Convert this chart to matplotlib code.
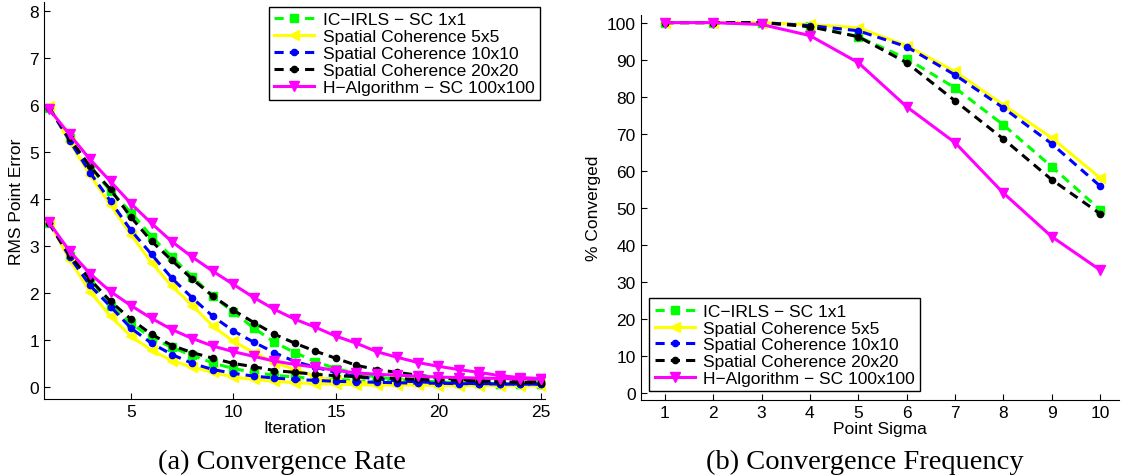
import numpy as np
import matplotlib.pyplot as plt

plt.rcParams['font.family'] = ['Liberation Sans', 'DejaVu Sans']

# ---- (a) convergence rate: two starting errors per method ----
iters = np.arange(1, 26)

green_hi = [5.95, 5.30, 4.68, 4.18, 3.72, 3.21, 2.77, 2.35, 1.94, 1.60, 1.26, 0.96, 0.74,
            0.55, 0.40, 0.30, 0.22, 0.17, 0.14, 0.12, 0.10, 0.09, 0.08, 0.08, 0.07]
yellow_hi = [5.98, 5.22, 4.52, 3.88, 3.25, 2.65, 2.15, 1.74, 1.30, 0.98, 0.74, 0.53, 0.38,
             0.23, 0.13, 0.11, 0.09, 0.08, 0.07, 0.06, 0.06, 0.05, 0.05, 0.05, 0.05]
blue_hi = [5.95, 5.25, 4.57, 3.96, 3.34, 2.83, 2.32, 1.90, 1.51, 1.20, 0.96, 0.74, 0.55,
           0.43, 0.32, 0.23, 0.18, 0.14, 0.12, 0.10, 0.09, 0.08, 0.08, 0.07, 0.07]
black_hi = [5.95, 5.30, 4.70, 4.21, 3.62, 3.11, 2.70, 2.30, 1.94, 1.64, 1.38, 1.13, 0.94,
            0.77, 0.62, 0.47, 0.38, 0.32, 0.26, 0.21, 0.17, 0.14, 0.12, 0.11, 0.10]
magenta_hi = [5.92, 5.38, 4.85, 4.38, 3.91, 3.49, 3.10, 2.77, 2.47, 2.19, 1.91, 1.66, 1.45,
              1.28, 1.09, 0.94, 0.76, 0.64, 0.53, 0.45, 0.38, 0.32, 0.25, 0.21, 0.19]

green_lo = [3.50, 2.80, 2.25, 1.74, 1.36, 1.06, 0.85, 0.68, 0.52, 0.40, 0.32, 0.26, 0.22,
            0.19, 0.17, 0.15, 0.13, 0.12, 0.11, 0.10, 0.09, 0.09, 0.08, 0.08, 0.08]
yellow_lo = [3.52, 2.72, 2.04, 1.51, 1.09, 0.79, 0.57, 0.43, 0.32, 0.22, 0.17, 0.13, 0.10,
             0.08, 0.07, 0.06, 0.05, 0.05, 0.05, 0.04, 0.04, 0.04, 0.04, 0.04, 0.04]
blue_lo = [3.50, 2.78, 2.17, 1.72, 1.26, 0.94, 0.70, 0.51, 0.38, 0.30, 0.24, 0.20, 0.17,
           0.15, 0.13, 0.12, 0.11, 0.10, 0.09, 0.09, 0.08, 0.08, 0.07, 0.07, 0.07]
black_lo = [3.50, 2.82, 2.30, 1.83, 1.45, 1.13, 0.89, 0.74, 0.62, 0.51, 0.44, 0.36, 0.32,
            0.28, 0.25, 0.23, 0.21, 0.19, 0.17, 0.16, 0.15, 0.14, 0.13, 0.12, 0.12]
magenta_lo = [3.51, 2.90, 2.42, 2.04, 1.74, 1.47, 1.23, 1.04, 0.88, 0.76, 0.66, 0.56, 0.49,
              0.43, 0.36, 0.31, 0.28, 0.26, 0.24, 0.22, 0.21, 0.20, 0.19, 0.18, 0.18]

# ---- (b) convergence frequency ----
sigma = np.arange(1, 11)
green_pc = [100, 100, 100, 99.2, 96.2, 90.3, 82.4, 72.4, 61.1, 49.5]
yellow_pc = [100, 100, 100, 99.5, 98.6, 93.8, 86.8, 77.8, 68.9, 58.1]
blue_pc = [100, 100, 100, 99.2, 97.8, 93.5, 85.9, 77.0, 67.3, 55.9]
black_pc = [100, 100, 100, 98.9, 96.2, 89.2, 78.9, 68.6, 57.6, 48.4]
magenta_pc = [100, 100, 99.5, 96.5, 89.2, 77.3, 67.6, 54.0, 42.2, 33.2]

labels = ["IC\u2212IRLS \u2212 SC 1x1", "Spatial Coherence 5x5", "Spatial Coherence 10x10",
          "Spatial Coherence 20x20", "H\u2212Algorithm \u2212 SC 100x100"]

styles = [
    dict(color=(0, 1, 0), marker='s', ls=(0, (3, 2)), ms=5.5),
    dict(color=(1, 1, 0), marker='<', ls='-', ms=7),
    dict(color=(0, 0, 1), marker='o', ls=(0, (3, 2)), ms=4.5),
    dict(color='black', marker='o', ls=(0, (3, 2)), ms=4.5),
    dict(color=(1, 0, 1), marker='v', ls='-', ms=7),
]

fig = plt.figure(figsize=(11.26, 4.77), dpi=100)
ax1 = fig.add_axes([0.039, 0.161, 0.445, 0.833])
ax2 = fig.add_axes([0.569, 0.159, 0.425, 0.807])

hi = [green_hi, yellow_hi, blue_hi, black_hi, magenta_hi]
lo = [green_lo, yellow_lo, blue_lo, black_lo, magenta_lo]
for st, a, b, lab in zip(styles, hi, lo, labels):
    ax1.plot(iters, a, lw=2.2, mec=st['color'], label=lab, **st)
    ax1.plot(iters, b, lw=2.2, mec=st['color'], **st)

for st, v, lab in zip(styles, [green_pc, yellow_pc, blue_pc, black_pc, magenta_pc], labels):
    ax2.plot(sigma, v, lw=2.2, mec=st['color'], label=lab, **st)

fs = 12.5
ax1.set_xlim(0.75, 25.2)
ax1.set_ylim(-0.25, 8.2)
ax1.set_xticks([5, 10, 15, 20, 25])
ax1.set_yticks(range(0, 9))
ax1.set_xlabel("Iteration", fontsize=fs, labelpad=1)
ax1.set_ylabel("RMS Point Error", fontsize=fs, labelpad=4)

ax2.set_xlim(0.5, 10.4)
ax2.set_ylim(-2, 102)
ax2.set_xticks(range(1, 11))
ax2.set_yticks(range(0, 101, 10))
ax2.set_xlabel("Point Sigma", fontsize=fs, labelpad=1)
ax2.set_ylabel("% Converged", fontsize=fs, labelpad=4)

for ax in (ax1, ax2):
    ax.spines['top'].set_visible(False)
    ax.spines['right'].set_visible(False)
    ax.tick_params(direction='in', length=4, labelsize=fs, width=0.8)

leg_kw = dict(fontsize=fs, handlelength=2.3, handletextpad=0.5, labelspacing=0.1,
              fancybox=False, edgecolor='black', framealpha=1, borderpad=0.3)
l1 = ax1.legend(loc='upper right', borderaxespad=0.3, **leg_kw)
l2 = ax2.legend(loc='lower left', borderaxespad=0.5, **leg_kw)
for l in (l1, l2):
    l.get_frame().set_linewidth(1.0)

fig.text(0.25, 0.005, "(a) Convergence Rate", family='Liberation Serif', fontsize=20.5,
         ha='center', va='bottom')
fig.text(0.768, 0.005, "(b) Convergence Frequency", family='Liberation Serif', fontsize=20.5,
         ha='center', va='bottom')

fig.savefig("out.png", dpi=100)
